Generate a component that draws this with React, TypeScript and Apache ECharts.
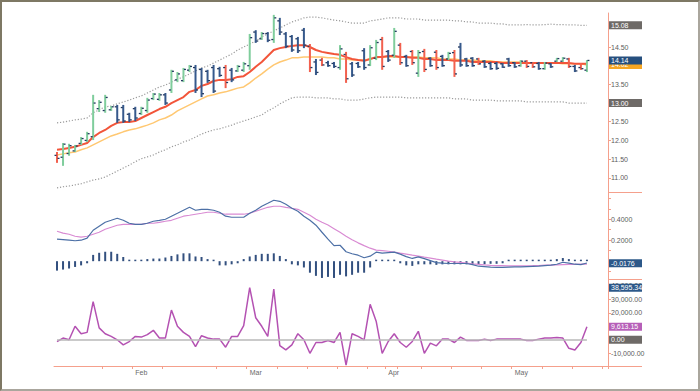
import React, { useEffect, useRef } from 'react';
import * as echarts from 'echarts';

// ---------- categories (trading days) ----------
const dates = [
  '2004-01-13','2004-01-14','2004-01-15','2004-01-16','2004-01-20','2004-01-21','2004-01-22','2004-01-23','2004-01-26','2004-01-27',
  '2004-01-28','2004-01-29','2004-01-30','2004-02-02','2004-02-03','2004-02-04','2004-02-05','2004-02-06','2004-02-09','2004-02-10',
  '2004-02-11','2004-02-12','2004-02-13','2004-02-17','2004-02-18','2004-02-19','2004-02-20','2004-02-23','2004-02-24','2004-02-25',
  '2004-02-26','2004-02-27','2004-03-01','2004-03-02','2004-03-03','2004-03-04','2004-03-05','2004-03-08','2004-03-09','2004-03-10',
  '2004-03-11','2004-03-12','2004-03-15','2004-03-16','2004-03-17','2004-03-18','2004-03-19','2004-03-22','2004-03-23','2004-03-24',
  '2004-03-25','2004-03-26','2004-03-29','2004-03-30','2004-03-31','2004-04-01','2004-04-02','2004-04-05','2004-04-06','2004-04-07',
  '2004-04-08','2004-04-12','2004-04-13','2004-04-14','2004-04-15','2004-04-16','2004-04-19','2004-04-20','2004-04-21','2004-04-22',
  '2004-04-23','2004-04-26','2004-04-27','2004-04-28','2004-04-29','2004-04-30','2004-05-03','2004-05-04','2004-05-05','2004-05-06',
  '2004-05-07','2004-05-10','2004-05-11','2004-05-12','2004-05-13','2004-05-14','2004-05-17','2004-05-18','2004-05-19','2004-05-20',
  '2004-05-21','2004-05-24'
];
const monthNames = ['Jan', 'Feb', 'Mar', 'Apr', 'May', 'Jun'];

// ---------- price bars ----------
const opens = [
  11.60, 11.55, 11.65, 11.72, 11.92, 12.00, 12.10, 12.85, 12.80, 12.82,
  12.90, 12.88, 12.70, 12.85, 12.72, 12.80, 13.12, 13.10, 13.22, 13.35,
  13.62, 13.60, 13.88, 13.95, 13.90, 13.85, 13.95, 13.92, 13.95, 13.88,
  13.86, 13.88, 14.00, 14.90, 14.72, 14.86, 14.70, 15.20, 14.85, 14.78,
  14.72, 14.95, 14.52, 14.10, 14.15, 14.08, 14.06, 13.95, 14.30, 14.05,
  14.06, 14.40, 14.02, 14.20, 14.70, 14.38, 14.28, 14.55, 14.25, 14.38,
  13.80, 14.38, 14.20, 14.36, 14.25, 14.18, 14.35, 14.50, 14.18, 14.20,
  14.18, 14.12, 14.06, 14.06, 14.05, 14.18, 14.08, 14.00, 14.12, 14.08,
  14.06, 13.92, 14.05, 14.12, 14.12, 14.18, 13.98, 13.95, 13.88
];
const highs = [
  11.69, 11.93, 11.91, 11.88, 12.09, 12.23, 13.22, 13.08, 13.22, 12.92,
  12.95, 12.95, 12.74, 12.90, 12.90, 13.14, 13.27, 13.27, 13.27, 13.89,
  13.83, 13.94, 14.02, 14.02, 13.94, 13.89, 14.02, 13.97, 14.02, 13.94,
  14.02, 14.10, 14.85, 14.95, 14.90, 14.90, 15.36, 15.28, 14.90, 14.82,
  14.77, 15.01, 14.58, 14.18, 14.21, 14.13, 14.10, 14.55, 14.37, 14.10,
  14.10, 14.47, 14.55, 14.69, 14.77, 14.42, 15.01, 14.61, 14.29, 14.42,
  14.42, 14.45, 14.23, 14.42, 14.29, 14.37, 14.42, 14.61, 14.21, 14.23,
  14.21, 14.15, 14.10, 14.10, 14.07, 14.21, 14.10, 14.15, 14.15, 14.10,
  14.10, 14.10, 14.07, 14.21, 14.23, 14.21, 14.02, 14.07, 14.15
];
const lows = [
  11.40, 11.32, 11.59, 11.69, 11.88, 11.96, 12.01, 12.76, 12.74, 12.79,
  12.47, 12.47, 12.49, 12.52, 12.68, 12.74, 13.08, 13.06, 12.95, 13.27,
  13.56, 13.56, 13.83, 13.27, 13.16, 13.54, 13.27, 13.70, 13.40, 13.56,
  13.83, 13.83, 13.89, 14.61, 14.69, 14.63, 14.61, 14.82, 14.47, 14.37,
  14.34, 14.47, 13.83, 13.75, 13.99, 13.97, 13.94, 13.89, 13.54, 13.70,
  13.94, 13.89, 13.99, 14.15, 13.89, 14.10, 14.21, 14.02, 13.97, 14.02,
  13.70, 13.83, 13.97, 13.89, 13.97, 14.15, 13.70, 13.97, 13.97, 13.97,
  14.02, 13.94, 13.89, 13.89, 13.94, 13.97, 13.94, 13.97, 13.94, 13.94,
  13.89, 13.89, 13.94, 14.10, 14.10, 13.94, 13.83, 13.89, 13.83
];
const closes = [
  11.52, 11.90, 11.86, 11.85, 12.05, 12.18, 13.00, 13.02, 13.15, 12.90,
  12.55, 12.52, 12.55, 12.60, 12.86, 13.08, 13.24, 13.22, 13.00, 13.85,
  13.78, 13.90, 13.98, 13.35, 13.25, 13.60, 13.32, 13.74, 13.55, 13.62,
  13.98, 14.05, 14.75, 14.66, 14.86, 14.68, 15.28, 14.90, 14.52, 14.42,
  14.40, 14.55, 13.95, 13.82, 14.02, 14.00, 13.98, 14.45, 13.65, 13.75,
  13.97, 13.95, 14.48, 14.62, 13.98, 14.15, 14.92, 14.08, 14.00, 14.08,
  14.35, 13.90, 14.00, 13.95, 14.00, 14.33, 13.78, 14.02, 14.00, 14.00,
  14.05, 13.97, 13.92, 13.93, 13.96, 14.00, 13.97, 14.12, 13.98, 13.97,
  13.92, 14.07, 13.97, 14.19, 14.20, 13.98, 13.86, 13.92, 14.14
];
// 1 = up (green), -1 = down (blue), 0 = alert (red)
const barTrend = [
  0, 1, 1, 1, 1, 1, 1, 1, 1, 1,
  -1, -1, -1, -1, 1, 1, 1, 1, -1, 1,
  1, 1, 1, -1, -1, -1, -1, -1, 0, -1,
  1, 1, 1, -1, 1, -1, 1, -1, -1, -1,
  -1, -1, 0, -1, 0, -1, -1, 1, 0, -1,
  -1, -1, 1, 1, 0, -1, 1, 0, -1, 0,
  1, 0, -1, 0, -1, 1, 0, -1, -1, -1,
  0, -1, -1, -1, -1, -1, -1, 1, 0, 0,
  -1, 1, -1, 1, 1, 0, -1, 0, 1
];

// ---------- price overlays ----------
const fastAvg = [
  11.75, 11.77, 11.80, 11.83, 11.88, 11.93, 12.09, 12.20, 12.28, 12.39,
  12.47, 12.49, 12.49, 12.52, 12.60, 12.68, 12.76, 12.84, 12.90, 13.00,
  13.08, 13.16, 13.30, 13.35, 13.46, 13.51, 13.59, 13.62, 13.62, 13.64,
  13.70, 13.72, 13.83, 13.97, 14.10, 14.26, 14.42, 14.47, 14.50, 14.53,
  14.55, 14.55, 14.50, 14.42, 14.37, 14.34, 14.31, 14.29, 14.23, 14.18,
  14.15, 14.13, 14.18, 14.23, 14.23, 14.26, 14.26, 14.23, 14.23, 14.21,
  14.21, 14.18, 14.18, 14.15, 14.15, 14.15, 14.13, 14.13, 14.13, 14.10,
  14.10, 14.10, 14.10, 14.10, 14.07, 14.07, 14.07, 14.07, 14.07, 14.07,
  14.07, 14.07, 14.07, 14.07, 14.07, 14.07, 14.05, 14.05, 14.05
];
const slowAvg = [
  11.61, 11.64, 11.67, 11.69, 11.75, 11.80, 11.88, 11.96, 12.04, 12.12,
  12.17, 12.23, 12.28, 12.31, 12.36, 12.41, 12.47, 12.55, 12.60, 12.68,
  12.79, 12.87, 12.95, 13.03, 13.11, 13.19, 13.22, 13.27, 13.30, 13.35,
  13.40, 13.43, 13.54, 13.67, 13.78, 13.91, 14.02, 14.10, 14.15, 14.21,
  14.21, 14.23, 14.23, 14.23, 14.23, 14.21, 14.21, 14.18, 14.18, 14.15,
  14.15, 14.15, 14.18, 14.21, 14.23, 14.23, 14.23, 14.23, 14.23, 14.23,
  14.23, 14.21, 14.21, 14.21, 14.18, 14.18, 14.18, 14.15, 14.15, 14.15,
  14.13, 14.13, 14.13, 14.10, 14.10, 14.10, 14.10, 14.10, 14.07, 14.07,
  14.07, 14.07, 14.07, 14.07, 14.05, 14.05, 14.05, 14.05, 14.02
];
const upperBand = [
  12.47, 12.49, 12.52, 12.55, 12.57, 12.60, 12.74, 12.82, 12.90, 12.92,
  12.98, 13.03, 13.08, 13.14, 13.19, 13.27, 13.35, 13.43, 13.48, 13.56,
  13.64, 13.70, 13.78, 13.86, 13.94, 13.99, 14.07, 14.15, 14.23, 14.31,
  14.42, 14.50, 14.58, 14.66, 14.77, 14.85, 14.93, 15.01, 15.09, 15.17,
  15.22, 15.28, 15.30, 15.30, 15.28, 15.25, 15.22, 15.20, 15.17, 15.14,
  15.14, 15.14, 15.20, 15.22, 15.25, 15.28, 15.28, 15.28, 15.25, 15.25,
  15.25, 15.22, 15.22, 15.22, 15.22, 15.22, 15.20, 15.20, 15.17, 15.17,
  15.14, 15.14, 15.14, 15.12, 15.12, 15.09, 15.09, 15.09, 15.10, 15.09,
  15.09, 15.10, 15.11, 15.10, 15.10, 15.09, 15.09, 15.08, 15.08
];
const lowerBand = [
  10.73, 10.76, 10.78, 10.81, 10.84, 10.89, 10.94, 10.97, 11.02, 11.10,
  11.18, 11.26, 11.34, 11.43, 11.51, 11.56, 11.61, 11.69, 11.75, 11.83,
  11.88, 11.96, 12.01, 12.09, 12.17, 12.23, 12.28, 12.31, 12.36, 12.41,
  12.47, 12.52, 12.57, 12.63, 12.68, 12.79, 12.87, 12.98, 13.06, 13.14,
  13.16, 13.16, 13.16, 13.14, 13.14, 13.14, 13.11, 13.11, 13.08, 13.08,
  13.08, 13.11, 13.14, 13.16, 13.16, 13.16, 13.16, 13.16, 13.14, 13.14,
  13.14, 13.14, 13.14, 13.14, 13.14, 13.14, 13.11, 13.11, 13.11, 13.08,
  13.08, 13.08, 13.08, 13.06, 13.06, 13.06, 13.06, 13.06, 13.03, 13.03,
  13.03, 13.03, 13.03, 13.03, 13.03, 13.00, 13.00, 13.00, 13.00
];

// ---------- MACD panel ----------
const macdLine = [
  0.21, 0.205, 0.20, 0.195, 0.20, 0.22, 0.295, 0.333, 0.371, 0.39,
  0.41, 0.39, 0.362, 0.352, 0.352, 0.362, 0.381, 0.39, 0.40, 0.429,
  0.457, 0.486, 0.514, 0.486, 0.495, 0.495, 0.486, 0.467, 0.429, 0.419,
  0.419, 0.419, 0.457, 0.486, 0.524, 0.552, 0.581, 0.571, 0.543, 0.505,
  0.476, 0.429, 0.39, 0.343, 0.276, 0.21, 0.148, 0.152, 0.09, 0.071,
  0.057, 0.033, 0.048, 0.086, 0.076, 0.081, 0.086, 0.067, 0.043, 0.026,
  0.041, 0.024, 0.005, -0.014, -0.019, -0.022, -0.022, -0.022, -0.022, -0.033,
  -0.048, -0.052, -0.057, -0.06, -0.06, -0.057, -0.055, -0.055, -0.052, -0.05,
  -0.048, -0.043, -0.038, -0.029, -0.01, -0.019, -0.029, -0.033, -0.0176
];
const signalLine = [
  0.286, 0.267, 0.257, 0.238, 0.229, 0.238, 0.257, 0.276, 0.305, 0.324,
  0.343, 0.352, 0.352, 0.352, 0.352, 0.362, 0.362, 0.371, 0.381, 0.39,
  0.41, 0.429, 0.438, 0.448, 0.457, 0.467, 0.467, 0.457, 0.448, 0.448,
  0.448, 0.448, 0.457, 0.476, 0.495, 0.514, 0.524, 0.524, 0.514, 0.505,
  0.495, 0.467, 0.438, 0.40, 0.371, 0.345, 0.31, 0.275, 0.238, 0.205,
  0.175, 0.148, 0.124, 0.105, 0.10, 0.095, 0.086, 0.076, 0.067, 0.057,
  0.048, 0.038, 0.029, 0.019, 0.01, 0.0, -0.007, -0.012, -0.019, -0.026,
  -0.031, -0.036, -0.04, -0.042, -0.043, -0.044, -0.045, -0.045, -0.044, -0.043,
  -0.041, -0.038, -0.037, -0.035, -0.033, -0.031, -0.030, -0.029, -0.029
];
const macdHist = [
  -0.09, -0.08, -0.07, -0.055, -0.04, -0.02, 0.06, 0.08, 0.09, 0.09,
  0.07, 0.04, 0.003, 0.003, 0.003, 0.02, 0.025, 0.025, 0.035, 0.05,
  0.065, 0.075, 0.075, 0.045, 0.04, 0.02, 0.003, -0.04, -0.04, -0.03,
  -0.02, 0.02, 0.045, 0.06, 0.07, 0.07, 0.075, 0.05, 0.02, -0.03,
  -0.04, -0.06, -0.11, -0.14, -0.16, -0.15, -0.16, -0.13, -0.145, -0.13,
  -0.11, -0.11, -0.06, 0.004, 0.004, 0.004, 0.004, -0.02, -0.04, -0.045,
  -0.03, -0.03, -0.03, -0.035, -0.03, -0.03, -0.03, -0.03, -0.03, -0.03,
  -0.03, -0.03, -0.025, -0.025, -0.02, 0.004, 0.004, 0.004, 0.004, 0.004,
  0.004, 0.004, 0.004, 0.02, 0.03, 0.02, 0.004, 0.004, 0.004
];

// ---------- oscillator panel ----------
const oscValues = [
  -1300, 1300, 0, 10000, 4500, 5500, 28300, 8800, 4500, 2500,
  0, -3800, -1300, 2500, 2000, 3800, 7000, 1300, 1300, 22000,
  10000, 5500, 2500, -5000, 3000, 1300, 500, 500, -5500, 2500,
  2500, 10500, 38595.34, 16300, 10000, 2500, 37500, -4300, -7500, -3800,
  4500, 0, -10000, -2000, -2000, -500, -2000, 5500, -18800, 4500,
  2500, 0, 26300, 13800, -10000, -1250, 4500, -2000, -5500, -1250,
  6300, -10000, -2500, -4500, 500, 500, -2000, 2000, -500, -500,
  -500, 500, -500, 500, 500, 500, 500, 500, -500, -500,
  500, 1250, 1250, 1750, 1250, -6300, -7500, -2000, 9613.15
];

// ---------- axis ticks / labels ----------
const priceTicks = [11, 11.5, 12, 12.5, 13, 13.5, 14, 14.5, 15];
const priceLabels = [11, 11.5, 12, 12.5, 13.5, 14.5];
const macdTicks = [-0.1, 0, 0.1, 0.2, 0.3, 0.4, 0.5, 0.6];
const macdLabels = [0.2, 0.4];
const oscTicks = [-10000, 0, 10000, 20000, 30000, 40000];
const oscLabels = [-10000, 20000, 30000, 40000];

// badges on the right axis
const priceBadges = [
  { value: 15.08, text: '15.08', color: '#6e6a67' },
  { value: 13.0, text: '13.00', color: '#6e6a67' },
  { value: 14.02, text: '14.02', color: '#f6a623' },
  { value: 14.14, text: '14.14', color: '#264f7e' },
];
const macdBadges = [{ value: -0.0176, text: '-0.0176', color: '#2c5889' }];
const oscBadges = [
  { value: 38595.34, text: '38,595.34', color: '#2c5889' },
  { value: 9613.15, text: '9,613.15', color: '#b65fb8' },
  { value: 0, text: '0.00', color: '#6e6a67' },
];

const SALMON = '#f5a08c';
const FONT = '"Liberation Sans", Arial, sans-serif';
const GREEN = '#7fcd9c';
const BLUE = '#36598c';
const RED = '#f2604e';
const TICKC = '#22385f';

function badgeItems(list: { value: number; text: string; color: string }[]) {
  return list.map((b) => ({
    yAxis: b.value,
    lineStyle: { color: 'rgba(0,0,0,0)', width: 0 },
    label: {
      show: true,
      position: 'end',
      distance: 1,
      formatter: b.text,
      backgroundColor: b.color,
      color: '#ffffff',
      fontSize: 7,
      fontFamily: FONT,
      lineHeight: 8,
      padding: [0, 2, 0, 2],
      width: 29,
      align: 'left',
    },
  }));
}

function yAxisCfg(gridIndex: number, min: number, max: number, ticks: number[], labels: number[], fmt: (v: number) => string) {
  return {
    type: 'value',
    gridIndex,
    position: 'right',
    min,
    max,
    splitLine: { show: false },
    axisLine: { show: true, onZero: false, lineStyle: { color: SALMON, width: 1 } },
    axisTick: { show: true, length: 3, lineStyle: { color: SALMON }, customValues: ticks },
    axisLabel: { show: true, customValues: labels, formatter: fmt, fontSize: 7, color: '#5c5c5c', margin: 3, fontFamily: FONT },
  };
}

export default function App() {
  const ref = useRef<HTMLDivElement>(null);

  useEffect(() => {
    if (!ref.current) return;
    const chart = echarts.init(ref.current, null, { renderer: 'svg' });

    const monthStart = new Set<number>();
    const weekTick = new Set<number>();
    dates.forEach((d, i) => {
      if (i === 0) return;
      const m = d.slice(5, 7);
      const pm = dates[i - 1].slice(5, 7);
      if (m !== pm) { monthStart.add(i); weekTick.add(i); }
      const day = new Date(d + 'T12:00:00Z').getUTCDay();
      if (day === 1) weekTick.add(i);
    });

    const ohlc = opens.map((o, i) => [i, o, highs[i], lows[i], closes[i], barTrend[i]]);

    const grids = [
      { left: 54, right: 92, top: 13, height: 179 },
      { left: 54, right: 92, top: 192, height: 87 },
      { left: 54, right: 92, top: 279, height: 87 },
    ];

    const hiddenX = (gi: number) => ({
      type: 'category', gridIndex: gi, data: dates, boundaryGap: true,
      axisLine: { show: false, onZero: false }, axisTick: { show: false }, axisLabel: { show: false }, splitLine: { show: false },
    });

    const option: any = {
      animation: false,
      backgroundColor: '#ffffff',
      textStyle: { fontFamily: FONT },
      grid: grids,
      xAxis: [
        hiddenX(0),
        hiddenX(1),
        {
          type: 'category', gridIndex: 2, data: dates, boundaryGap: true,
          axisLine: { show: true, onZero: false, lineStyle: { color: SALMON, width: 1 } },
          axisTick: { show: true, length: 3, lineStyle: { color: SALMON }, interval: (i: number) => weekTick.has(i) },
          axisLabel: {
            show: true, interval: (i: number) => monthStart.has(i),
            formatter: (v: string) => monthNames[parseInt(v.slice(5, 7), 10) - 1],
            fontSize: 7, color: '#6a6a6a', margin: 3, align: 'left', fontFamily: FONT,
          },
          splitLine: { show: false },
        },
      ],
      yAxis: [
        yAxisCfg(0, 10.62, 15.41, priceTicks, priceLabels, (v: number) => v.toFixed(2)),
        yAxisCfg(1, -0.17, 0.66, macdTicks, macdLabels, (v: number) => v.toFixed(4)),
        yAxisCfg(2, -19400, 45000, oscTicks, oscLabels, (v: number) =>
          v.toLocaleString('en-US', { minimumFractionDigits: 2, maximumFractionDigits: 2 })),
      ],
      graphic: [
        { type: 'line', shape: { x1: 608, y1: 192.5, x2: 642, y2: 192.5 }, style: { stroke: SALMON, lineWidth: 1 } },
        { type: 'line', shape: { x1: 608, y1: 279.5, x2: 642, y2: 279.5 }, style: { stroke: SALMON, lineWidth: 1 } },
        { type: 'line', shape: { x1: 608, y1: 366.5, x2: 642, y2: 366.5 }, style: { stroke: SALMON, lineWidth: 1 } },
      ],
      series: [
        {
          name: 'upper', type: 'line', xAxisIndex: 0, yAxisIndex: 0, data: upperBand, symbol: 'none',
          lineStyle: { color: '#9b9b9b', width: 1.2, type: [1.2, 1.8] }, z: 1,
          markLine: { silent: true, symbol: ['none', 'none'], animation: false, data: badgeItems(priceBadges) },
        },
        {
          name: 'lower', type: 'line', xAxisIndex: 0, yAxisIndex: 0, data: lowerBand, symbol: 'none',
          lineStyle: { color: '#9b9b9b', width: 1.2, type: [1.2, 1.8] }, z: 1,
        },
        {
          name: 'slow', type: 'line', xAxisIndex: 0, yAxisIndex: 0, data: slowAvg, symbol: 'none',
          lineStyle: { color: '#ffc872', width: 1.5 }, z: 2,
        },
        {
          name: 'fast', type: 'line', xAxisIndex: 0, yAxisIndex: 0, data: fastAvg, symbol: 'none',
          lineStyle: { color: '#f2553a', width: 2 }, z: 2,
        },
        {
          name: 'bars', type: 'custom', xAxisIndex: 0, yAxisIndex: 0, data: ohlc, z: 3,
          encode: { x: 0, y: [1, 2, 3, 4] },
          renderItem: (params: any, api: any) => {
            const idx = api.value(0);
            const hi = api.coord([idx, api.value(2)]);
            const lo = api.coord([idx, api.value(3)]);
            const op = api.coord([idx, api.value(1)]);
            const cl = api.coord([idx, api.value(4)]);
            const t = api.value(5);
            const color = t > 0 ? GREEN : t < 0 ? BLUE : RED;
            return {
              type: 'group',
              children: [
                { type: 'line', shape: { x1: hi[0], y1: hi[1], x2: lo[0], y2: lo[1] }, style: { stroke: color, lineWidth: 2 } },
                { type: 'line', shape: { x1: op[0] - 2.5, y1: op[1], x2: op[0] - 0.5, y2: op[1] }, style: { stroke: TICKC, lineWidth: 1.3 } },
                { type: 'line', shape: { x1: cl[0] + 0.5, y1: cl[1], x2: cl[0] + 2.5, y2: cl[1] }, style: { stroke: TICKC, lineWidth: 1.3 } },
              ],
            };
          },
        },
        {
          name: 'hist', type: 'bar', xAxisIndex: 1, yAxisIndex: 1, data: macdHist, barWidth: 2, barMinHeight: 1.5,
          itemStyle: { color: '#33507f' }, z: 1,
        },
        {
          name: 'signal', type: 'line', xAxisIndex: 1, yAxisIndex: 1, data: signalLine, symbol: 'none',
          lineStyle: { color: '#d98bd3', width: 1.2 }, z: 2,
        },
        {
          name: 'macd', type: 'line', xAxisIndex: 1, yAxisIndex: 1, data: macdLine, symbol: 'none',
          lineStyle: { color: '#4d70a6', width: 1.2 }, z: 3,
          markLine: { silent: true, symbol: ['none', 'none'], animation: false, data: badgeItems(macdBadges) },
        },
        {
          name: 'osc', type: 'line', xAxisIndex: 2, yAxisIndex: 2, data: oscValues, symbol: 'none',
          lineStyle: { color: '#b452b2', width: 1.5 }, z: 3,
          markLine: {
            silent: true, symbol: ['none', 'none'], animation: false,
            data: [
              [
                { coord: [dates[0], 0], lineStyle: { color: '#b8b8b8', width: 1.5, type: 'solid' }, label: { show: false } },
                { coord: [dates[oscValues.length - 1], 0] },
              ],
              ...badgeItems(oscBadges),
            ],
          },
        },
      ],
    };

    chart.setOption(option);
    return () => chart.dispose();
  }, []);

  return (
    <div style={{ position: 'fixed', left: 0, top: 0, width: 700, height: 391, background: '#ffffff' }}>
      <div ref={ref} style={{ width: 700, height: 391 }} />
      <div
        style={{
          position: 'absolute', left: 0, top: 0, width: 700, height: 391, boxSizing: 'border-box', pointerEvents: 'none',
          borderTop: '2px solid #7e7864', borderLeft: '2px solid #7e7864',
          borderRight: '2px solid #aaa69d', borderBottom: '2px solid #aaa69d',
        }}
      />
    </div>
  );
}
